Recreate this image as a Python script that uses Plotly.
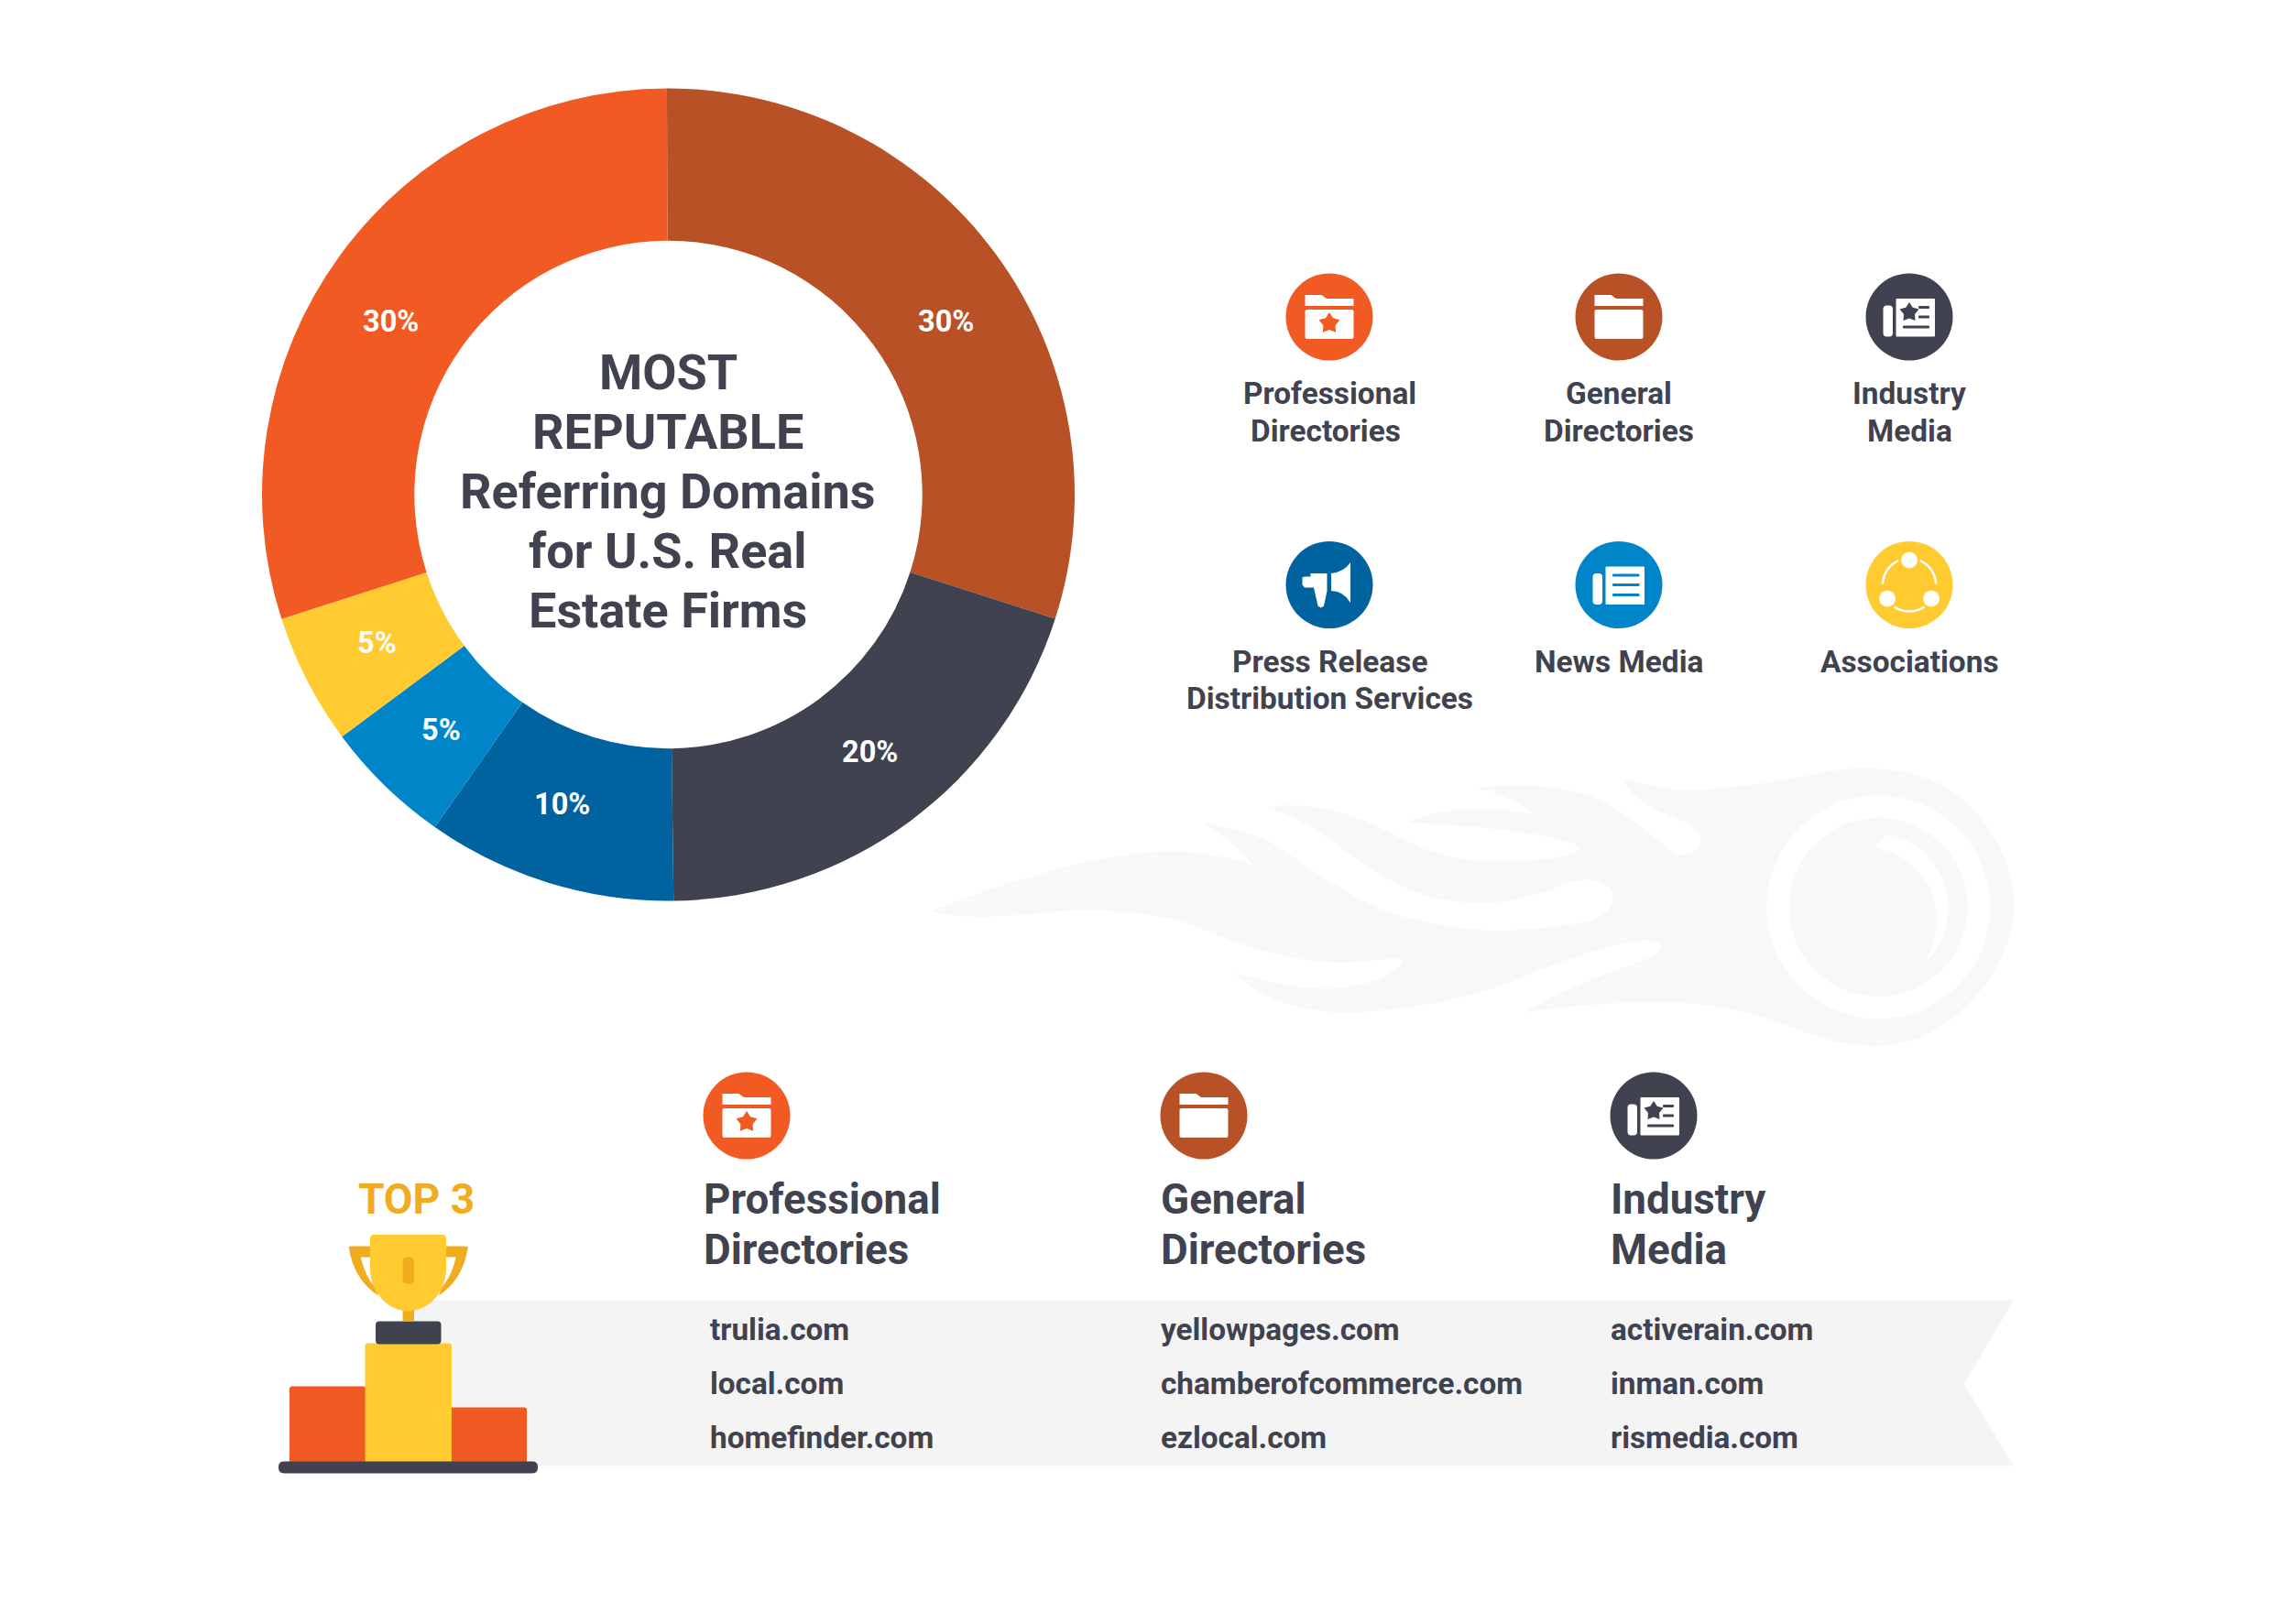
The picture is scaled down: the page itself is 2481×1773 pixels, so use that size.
import math
import plotly.graph_objects as go

W = 2481
H = 1773

ORANGE = "#F25A24"
BROWN = "#B95126"
DARK = "#40434F"
NAVY = "#00629F"
BLUE = "#0086C8"
YELLOW = "#FFCB31"
GOLD = "#F0AC1D"
PALE = "#F4F4F4"
FLAME = "#F8F8F8"

# pie data, clockwise from the top
categories = ["General Directories", "Industry Media", "Press Release Distribution Services",
              "News Media", "Associations", "Professional Directories"]
shares = [30, 19.85, 9.95, 5.1, 5.2, 29.9]
slice_colors = [BROWN, DARK, NAVY, BLUE, YELLOW, ORANGE]
label_angles = [58, 142, 199, 224, 243, 302]

title_lines = ["MOST", "REPUTABLE", "Referring Domains", "for U.S. Real", "Estate Firms"]

legend_labels = [["Professional", "Directories"], ["General", "Directories"], ["Industry", "Media"],
                 ["Press Release", "Distribution Services"], ["News Media"], ["Associations"]]
legend_icons = ["folder_star", "folder", "paper_star", "megaphone", "paper_lines", "share"]
legend_colors = [ORANGE, BROWN, DARK, NAVY, BLUE, YELLOW]

top_headings = [["Professional", "Directories"], ["General", "Directories"], ["Industry", "Media"]]
top_icons = ["folder_star", "folder", "paper_star"]
top_colors = [ORANGE, BROWN, DARK]
top_domains = [["trulia.com", "local.com", "homefinder.com"],
               ["yellowpages.com", "chamberofcommerce.com", "ezlocal.com"],
               ["activerain.com", "inman.com", "rismedia.com"]]

shapes = []
annotations = []


def pt(x, y):
    return f"{x / W:.5f},{1 - y / H:.5f}"


def add_path(d, color):
    shapes.append(dict(type="path", xref="paper", yref="paper", path=d,
                       fillcolor=color, line=dict(width=0), layer="below"))


def add_circle(cx, cy, r, color):
    shapes.append(dict(type="circle", xref="paper", yref="paper",
                       x0=(cx - r) / W, x1=(cx + r) / W,
                       y0=1 - (cy + r) / H, y1=1 - (cy - r) / H,
                       fillcolor=color, line=dict(width=0), layer="below"))


def polygon(points):
    return "M" + " L".join(pt(x, y) for x, y in points) + " Z"


def add_rect(x0, y0, x1, y1, color, r=0):
    if r == 0:
        add_path(polygon([(x0, y0), (x1, y0), (x1, y1), (x0, y1)]), color)
        return
    d = (f"M{pt(x0 + r, y0)} L{pt(x1 - r, y0)} Q{pt(x1, y0)} {pt(x1, y0 + r)} "
         f"L{pt(x1, y1 - r)} Q{pt(x1, y1)} {pt(x1 - r, y1)} "
         f"L{pt(x0 + r, y1)} Q{pt(x0, y1)} {pt(x0, y1 - r)} "
         f"L{pt(x0, y0 + r)} Q{pt(x0, y0)} {pt(x0 + r, y0)} Z")
    add_path(d, color)


def add_star(cx, cy, r, color):
    points = []
    for i in range(10):
        rad = r if i % 2 == 0 else r * 0.58
        a = math.radians(-90 + 36 * i)
        points.append((cx + rad * math.cos(a), cy + rad * math.sin(a)))
    add_path(polygon(points), color)


def add_arc(cx, cy, r, a0, a1, width, color):
    # thin ring segment, angles in degrees
    n = 24
    outer = [(cx + (r + width / 2) * math.cos(math.radians(a0 + (a1 - a0) * i / n)),
              cy + (r + width / 2) * math.sin(math.radians(a0 + (a1 - a0) * i / n))) for i in range(n + 1)]
    inner = [(cx + (r - width / 2) * math.cos(math.radians(a0 + (a1 - a0) * i / n)),
              cy + (r - width / 2) * math.sin(math.radians(a0 + (a1 - a0) * i / n))) for i in range(n + 1)]
    add_path(polygon(outer + inner[::-1]), color)


def add_text(x, y, text, size, color=DARK, weight=700, anchor="center"):
    annotations.append(dict(x=x / W, y=1 - y / H, xref="paper", yref="paper", text=text,
                            showarrow=False, xanchor=anchor, yanchor="middle",
                            borderpad=0, borderwidth=0,
                            font=dict(family="Roboto", size=size, color=color, weight=weight)))


def add_icon(kind, cx, cy, color):
    add_circle(cx, cy, 47.5, color)
    if kind in ("folder_star", "folder"):
        tab = [(-26.5, -12), (-26.5, -24), (-8.5, -24), (-3, -20), (26.5, -20), (26.5, -12)]
        add_path(polygon([(cx + x, cy + y) for x, y in tab]), "white")
        add_rect(cx - 26.5, cy - 8, cx + 26.5, cy + 24, "white", r=2)
        if kind == "folder_star":
            add_star(cx, cy + 7, 12, color)
    elif kind in ("paper_star", "paper_lines"):
        add_rect(cx - 28.5, cy - 12.5, cx - 18, cy + 21.5, "white", r=4)
        add_rect(cx - 14.5, cy - 20, cx + 28, cy + 21.5, "white", r=1)
        if kind == "paper_star":
            add_star(cx, cy - 5, 11, color)
            add_rect(cx + 10, cy - 12, cx + 22, cy - 9, color, r=1)
            add_rect(cx + 10, cy - 1.5, cx + 22, cy + 1.5, color, r=1)
            add_rect(cx - 7, cy + 9.5, cx + 22, cy + 12.5, color, r=1)
        else:
            add_rect(cx - 7, cy - 12, cx + 22.5, cy - 9, color, r=1)
            add_rect(cx - 7, cy - 1.5, cx + 22.5, cy + 1.5, color, r=1)
            add_rect(cx - 7, cy + 9.5, cx + 22.5, cy + 12.5, color, r=1)
    elif kind == "megaphone":
        d = (f"M{pt(cx + 2, cy - 12.5)} Q{pt(cx + 16, cy - 14)} {pt(cx + 23, cy - 24.5)} "
             f"L{pt(cx + 23, cy + 19.5)} Q{pt(cx + 16, cy + 7)} {pt(cx + 2, cy + 6.5)} Z")
        add_path(d, "white")
        handle = [(-20.5, -12.5), (-2.5, -12.5), (-2.5, 6.5), (-6, 23), (-9, 25), (-12.5, 23),
                  (-17, 3), (-27, 3), (-29.5, 0), (-29.5, -8), (-27, -9), (-20.5, -9)]
        add_path(polygon([(cx + x, cy + y) for x, y in handle]), "white")
    elif kind == "share":
        add_arc(cx, cy, 29, -66, -2, 2.5, "white")
        add_arc(cx, cy, 29, 55, 125, 2.5, "white")
        add_arc(cx, cy, 29, 182, 246, 2.5, "white")
        for dx, dy in [(0, -27), (-24, 15), (24, 15)]:
            add_circle(cx + dx, cy + dy, 9, "white")


FLAME_X = lambda v: 1000 + v / 1.254
FLAME_Y = lambda v: 820 + v / 3


def flame_pt(p):
    return pt(FLAME_X(p[0]), FLAME_Y(p[1]))


def flame_path(start, segments):
    d = "M" + flame_pt(start)
    for c1, c2, end in segments:
        d += f" C{flame_pt(c1)} {flame_pt(c2)} {flame_pt(end)}"
    return d + " Z"


flame_outline = [
    ((100, 450), (200, 370), (290, 340)), ((350, 318), (420, 335), (460, 375)),
    ((445, 320), (420, 275), (392, 235)), ((450, 255), (480, 290), (500, 320)),
    ((560, 420), (620, 520), (680, 550)), ((710, 570), (760, 590), (800, 588)),
    ((850, 585), (895, 568), (915, 560)), ((950, 545), (960, 480), (950, 450)),
    ((940, 420), (915, 415), (895, 430)), ((860, 460), (820, 500), (770, 497)),
    ((700, 495), (660, 440), (620, 380)), ((570, 300), (530, 215), (478, 183)),
    ((520, 170), (570, 180), (620, 235)), ((670, 290), (700, 340), (760, 358)),
    ((820, 370), (910, 350), (908, 318)), ((905, 280), (760, 240), (672, 235)),
    ((700, 200), (760, 170), (843, 205)), ((825, 165), (800, 140), (767, 120)),
    ((830, 105), (900, 115), (940, 165)), ((990, 225), (1030, 340), (1050, 340)),
    ((1070, 340), (1075, 300), (1073, 275)), ((1065, 240), (1035, 215), (1020, 200)),
    ((990, 170), (975, 130), (967, 90)), ((1000, 110), (1030, 128), (1060, 128)),
    ((1110, 125), (1200, 95), (1240, 70)), ((1300, 40), (1370, 60), (1410, 120)),
    ((1470, 210), (1503, 370), (1503, 510)), ((1503, 700), (1420, 965), (1315, 965)),
    ((1250, 965), (1220, 920), (1170, 880)), ((1110, 835), (1060, 820), (1010, 822)),
    ((950, 822), (880, 840), (835, 855)), ((880, 780), (960, 720), (1000, 680)),
    ((1030, 650), (1025, 620), (1000, 620)), ((950, 620), (860, 710), (820, 750)),
    ((750, 820), (660, 850), (590, 857)), ((520, 855), (465, 800), (436, 728)),
    ((480, 750), (510, 778), (560, 778)), ((620, 778), (670, 710), (666, 685)),
    ((660, 665), (630, 692), (580, 693)), ((510, 690), (440, 630), (400, 590)),
    ((340, 530), (280, 522), (230, 522)), ((150, 525), (90, 565), (20, 525)),
]
add_path(flame_path((20, 525), flame_outline), FLAME)
add_circle(FLAME_X(1317), FLAME_Y(511), 122, "white")
add_circle(FLAME_X(1317), FLAME_Y(511), 97.5, FLAME)
add_path(flame_path((1328, 272), [((1390, 300), (1412, 420), (1412, 510)),
                                  ((1412, 590), (1400, 650), (1378, 697)),
                                  ((1395, 640), (1396, 590), (1396, 540)),
                                  ((1396, 440), (1365, 340), (1313, 315))]), "white")

# ribbon behind the top 3 lists
add_path(polygon([(446, 1419.5), (2198, 1419.5), (2144, 1511), (2198, 1600.5), (446, 1600.5)]), PALE)

# trophy on the podium
dy = 1.5
add_rect(316, 1512 + dy, 400, 1596 + dy, ORANGE, r=3)
add_rect(491, 1535 + dy, 575, 1596 + dy, ORANGE, r=3)
add_rect(398.5, 1465 + dy, 493, 1596 + dy, YELLOW, r=3)
add_rect(410, 1441 + dy, 481.5, 1466 + dy, DARK, r=4)
add_rect(439.5, 1425 + dy, 452, 1441 + dy, GOLD)
add_rect(304, 1594 + dy, 587, 1607 + dy, DARK, r=6)
# handles, mirrored around the stem
for side in (-1, 1):
    hx = lambda v: 445.75 + side * v
    add_path(f"M{pt(hx(65), 1360 + dy)} Q{pt(hx(65), 1359 + dy)} {pt(hx(60), 1359 + dy)} L{pt(hx(40), 1359 + dy)} "
             f"L{pt(hx(40), 1371 + dy)} L{pt(hx(52), 1371 + dy)} Q{pt(hx(48), 1390 + dy)} {pt(hx(36), 1405 + dy)} "
             f"L{pt(hx(33), 1413 + dy)} Q{pt(hx(60), 1395 + dy)} {pt(hx(65), 1360 + dy)} Z", GOLD)
# cup
add_path(f"M{pt(408, 1346.5 + dy)} L{pt(483, 1346.5 + dy)} Q{pt(487, 1346.5 + dy)} {pt(487, 1351 + dy)} L{pt(487, 1385 + dy)} "
         f"C{pt(486, 1408 + dy)} {pt(470, 1429 + dy)} {pt(445.5, 1430 + dy)} C{pt(421, 1429 + dy)} {pt(405, 1408 + dy)} {pt(404, 1385 + dy)} "
         f"L{pt(404, 1351 + dy)} Q{pt(404, 1346.5 + dy)} {pt(408, 1346.5 + dy)} Z", YELLOW)
add_rect(439.5, 1371 + dy, 452, 1400 + dy, GOLD, r=5)

# legend
legend_x = [1451, 1767, 2084]
legend_y = [346, 638.5]
for i, label in enumerate(legend_labels):
    cx = legend_x[i % 3]
    cy = legend_y[i // 3]
    add_icon(legend_icons[i], cx, cy, legend_colors[i])
    for j, line in enumerate(label):
        # the second line of the first entry sits a little left in the original
        shift = -4 if (i == 0 and j == 1) else 0
        add_text(cx + shift, cy + 84 + j * 40, line, 33.4)

# top 3 columns
top_x = [767.5, 1267, 1758]
top_icon_x = [815, 1314, 1805]
domain_x = [775, 1267, 1758]
domain_y = [1451, 1510, 1569]
for i, heading in enumerate(top_headings):
    add_icon(top_icons[i], top_icon_x[i], 1218, top_colors[i])
    add_text(top_x[i], 1309.5, heading[0], 45.7, anchor="left")
    add_text(top_x[i], 1364.5, heading[1], 45.7, anchor="left")
    for j, name in enumerate(top_domains[i]):
        add_text(domain_x[i], domain_y[j], name, 33.3, anchor="left")
add_text(454, 1308.5, "TOP 3", 46, color=GOLD)

# centre of the donut
cx_pie, cy_pie, r_pie = 729.5, 540, 443.5
for j, line in enumerate(title_lines):
    add_text(cx_pie, 406.5 + j * 65, line, 54)

# percent labels sit on the middle of the ring
r_label = r_pie * 0.805
for share, angle in zip(shares, label_angles):
    a = math.radians(angle)
    add_text(cx_pie + r_label * math.sin(a), cy_pie - r_label * math.cos(a),
             f"{round(share)}%", 32.5, color="white")

fig = go.Figure(go.Pie(
    labels=categories,
    values=shares,
    sort=False,
    direction="clockwise",
    rotation=-0.2,
    hole=0.625,
    marker=dict(colors=slice_colors, line=dict(width=0)),
    textinfo="none",
    domain=dict(x=[(cx_pie - r_pie) / W, (cx_pie + r_pie) / W],
                y=[1 - (cy_pie + r_pie) / H, 1 - (cy_pie - r_pie) / H]),
    showlegend=False,
))

fig.update_layout(
    width=W,
    height=H,
    margin=dict(l=0, r=0, t=0, b=0),
    paper_bgcolor="white",
    shapes=shapes,
    annotations=annotations,
)

fig.write_html("out.html", post_script="document.body.style.margin='0';",
               config={"displayModeBar": False})
